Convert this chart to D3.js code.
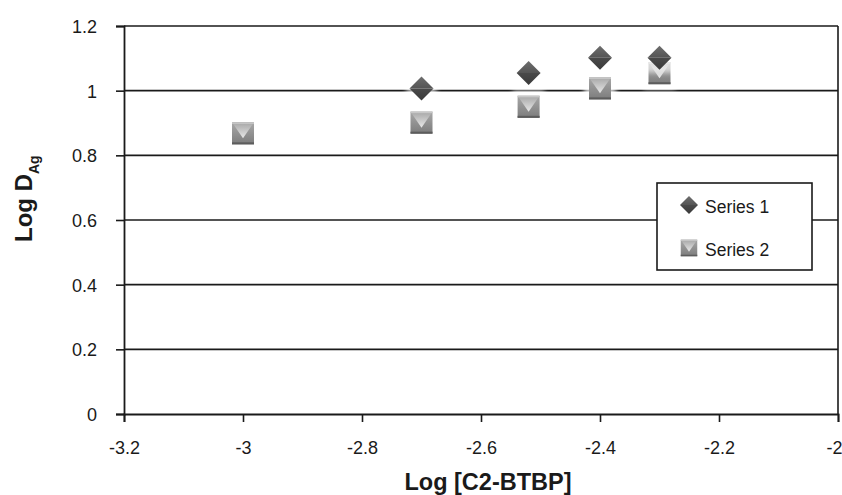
<!DOCTYPE html>
<html>
<head>
<meta charset="utf-8">
<script src="https://cdn.jsdelivr.net/npm/d3@7"></script>
<style>
  html, body { margin: 0; padding: 0; background: #fff; }
  svg { display: block; font-family: Arial, "Liberation Sans", sans-serif; }
</style>
</head>
<body>
<svg id="chart" width="842" height="495"></svg>
<script>
// Data: Log [C2-BTBP] vs Log D(Ag)
const series1X = [-2.7, -2.52, -2.4, -2.3];
const series1Y = [1.007, 1.055, 1.102, 1.102];
const series2X = [-3.0, -2.7, -2.52, -2.4, -2.3];
const series2Y = [0.868, 0.901, 0.95, 1.007, 1.054];
const seriesNames = ["Series 1", "Series 2"];
const xTicks = [-3.2, -3, -2.8, -2.6, -2.4, -2.2, -2];
const yTicks = [0, 0.2, 0.4, 0.6, 0.8, 1, 1.2];

const svg = d3.select("#chart");
const plot = { left: 124, right: 838, top: 26, bottom: 414 };

const x = d3.scaleLinear().domain([-3.2, -2]).range([plot.left, plot.right]);
const y = d3.scaleLinear().domain([0, 1.2]).range([plot.bottom, plot.top]);

const defs = svg.append("defs");

// Marker shading
const sqGrad = defs.append("linearGradient").attr("id", "sqBase").attr("x1", 0).attr("y1", 0).attr("x2", 0).attr("y2", 1);
sqGrad.append("stop").attr("offset", "0%").attr("stop-color", "#a8a8a8");
sqGrad.append("stop").attr("offset", "100%").attr("stop-color", "#7c7c7c");
const sqTri = defs.append("linearGradient").attr("id", "sqTri").attr("x1", 0).attr("y1", 0).attr("x2", 0).attr("y2", 1);
sqTri.append("stop").attr("offset", "0%").attr("stop-color", "#a6a6a6");
sqTri.append("stop").attr("offset", "100%").attr("stop-color", "#e8e8e8");
const dmTop = defs.append("linearGradient").attr("id", "dmTop").attr("x1", 0).attr("y1", 0).attr("x2", 0).attr("y2", 1);
dmTop.append("stop").attr("offset", "0%").attr("stop-color", "#6e6e6e");
dmTop.append("stop").attr("offset", "100%").attr("stop-color", "#555");
const dmBot = defs.append("linearGradient").attr("id", "dmBot").attr("x1", 0).attr("y1", 0).attr("x2", 0).attr("y2", 1);
dmBot.append("stop").attr("offset", "0%").attr("stop-color", "#4a4a4a");
dmBot.append("stop").attr("offset", "100%").attr("stop-color", "#3a3a3a");

defs.append("filter").attr("id", "halo").attr("x", "-50%").attr("y", "-50%").attr("width", "200%").attr("height", "200%")
  .append("feGaussianBlur").attr("stdDeviation", 2.5);

// Gridlines
svg.append("g").selectAll("line").data(yTicks.filter(d => d > 0)).join("line")
  .attr("x1", plot.left).attr("x2", plot.right)
  .attr("y1", d => y(d)).attr("y2", d => y(d))
  .attr("stroke", "#1a1a1a").attr("stroke-width", 1.6);

// Right border of plot area
svg.append("line")
  .attr("x1", plot.right).attr("x2", plot.right)
  .attr("y1", plot.top).attr("y2", plot.bottom)
  .attr("stroke", "#1a1a1a").attr("stroke-width", 1.6);

// Axes
const xAxis = d3.axisBottom(x).tickValues(xTicks).tickSize(8).tickPadding(19).tickFormat(d => String(d));
const yAxis = d3.axisLeft(y).tickValues(yTicks).tickSize(8).tickPadding(19).tickFormat(d => String(d));

const gx = svg.append("g").attr("transform", `translate(0,${plot.bottom})`).call(xAxis);
const gy = svg.append("g").attr("transform", `translate(${plot.left},0)`).call(yAxis);
[gx, gy].forEach(g => {
  g.attr("font-size", 18).attr("font-family", "Arial, 'Liberation Sans', sans-serif");
  g.select(".domain").attr("stroke", "#1a1a1a").attr("stroke-width", 1.8);
  g.selectAll(".tick line").attr("stroke", "#1a1a1a").attr("stroke-width", 1.6);
  g.selectAll(".tick text").attr("fill", "#1a1a1a");
});
gy.selectAll(".tick text").attr("dy", "0.36em");
// keep the last x label inside the canvas
gx.selectAll(".tick text").filter(d => d === -2).attr("text-anchor", "end").attr("x", 4);

// Axis titles
svg.append("text")
  .attr("x", 488).attr("y", 490)
  .attr("text-anchor", "middle").attr("font-weight", "bold").attr("font-size", 23.5)
  .attr("fill", "#1a1a1a")
  .text("Log [C2-BTBP]");

const yTitle = svg.append("text")
  .attr("transform", `translate(32,242) rotate(-90)`)
  .attr("text-anchor", "start").attr("font-weight", "bold").attr("font-size", 24)
  .attr("fill", "#1a1a1a");
yTitle.append("tspan").text("Log D");
yTitle.append("tspan").attr("font-size", 14).attr("dy", 7).text("Ag");

// Marker drawing helpers
const S = 11; // half-size of markers
function drawSquare(g, halo) {
  if (halo) g.append("rect").attr("x", -S - 5).attr("y", -S - 5).attr("width", 2 * S + 10).attr("height", 2 * S + 10)
    .attr("fill", "#fff").attr("opacity", 0.7).attr("filter", "url(#halo)");
  g.append("rect").attr("x", -S).attr("y", -S).attr("width", 2 * S).attr("height", 2 * S).attr("fill", "url(#sqBase)");
  g.append("path").attr("d", `M${-S},${-S}L${S},${-S}L0,${S * 0.45}Z`).attr("fill", "url(#sqTri)");
  g.append("rect").attr("x", -S).attr("y", S - 2).attr("width", 2 * S).attr("height", 2).attr("fill", "#5c5c5c");
  g.append("rect").attr("x", -S).attr("y", -S).attr("width", 2 * S).attr("height", 1.5).attr("fill", "#c8c8c8");
}
function drawDiamond(g, halo) {
  if (halo) g.append("rect").attr("x", -S - 4).attr("y", -S - 4).attr("width", 2 * S + 8).attr("height", 2 * S + 8)
    .attr("fill", "#fff").attr("opacity", 0.6).attr("filter", "url(#halo)");
  g.append("path").attr("d", `M${-S - 1},0L0,${-S - 1}L${S + 1},0Z`).attr("fill", "url(#dmTop)");
  g.append("path").attr("d", `M${-S - 1},0L0,${S + 1}L${S + 1},0Z`).attr("fill", "url(#dmBot)");
}

// Series 2 (squares)
svg.append("g").selectAll("g").data(series2X.map((d, i) => [d, series2Y[i]])).join("g")
  .attr("transform", d => `translate(${x(d[0])},${y(d[1])})`)
  .each(function () { drawSquare(d3.select(this), true); });

// Series 1 (diamonds)
svg.append("g").selectAll("g").data(series1X.map((d, i) => [d, series1Y[i]])).join("g")
  .attr("transform", d => `translate(${x(d[0])},${y(d[1])})`)
  .each(function () { drawDiamond(d3.select(this), true); });

// Legend
const legend = svg.append("g");
legend.append("rect").attr("x", 657).attr("y", 183).attr("width", 155).attr("height", 87)
  .attr("fill", "#fff").attr("stroke", "#1a1a1a").attr("stroke-width", 1.6);
const items = legend.selectAll("g.item").data(seriesNames).join("g").attr("class", "item")
  .attr("transform", (d, i) => `translate(689,${i === 0 ? 205 : 248})`);
items.each(function (d, i) {
  const g = d3.select(this);
  const m = g.append("g").attr("transform", "scale(0.75)");
  if (i === 0) drawDiamond(m, false); else drawSquare(m, false);
  g.append("text").attr("x", 16).attr("y", 8)
    .attr("font-size", 17.5).attr("fill", "#1a1a1a").text(d);
});
</script>
</body>
</html>
